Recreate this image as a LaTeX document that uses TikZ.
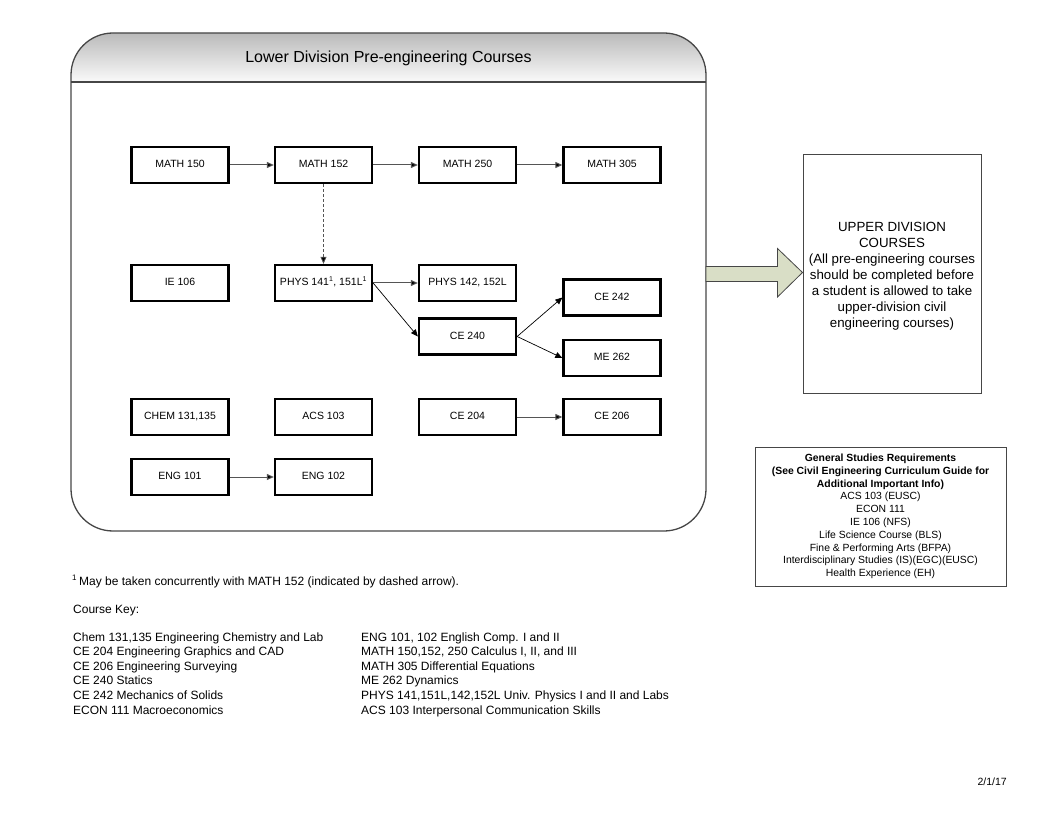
\documentclass[tikz,border=0pt]{standalone}
\usepackage{fontspec}
\setmainfont{Liberation Sans}
\usetikzlibrary{arrows.meta}
\definecolor{framegray}{RGB}{70,70,70}
\definecolor{arrowfill}{RGB}{217,222,198}
\definecolor{linegray}{RGB}{85,85,85}
\tikzset{
  course/.style={draw=black, line width=2.3pt, minimum width=97pt, minimum height=36pt, inner sep=0pt, text height=7.6pt, text depth=2.2pt, font=\fontsize{10.5}{12}\selectfont, fill=white},
  conn/.style={draw=linegray, line width=1pt, -{Triangle[length=7pt,width=6pt,fill=black]}},
  connd/.style={draw=black, line width=0.7pt, -{Triangle[length=7pt,width=6pt,fill=black]}},
  dconn/.style={draw=linegray, line width=0.8pt, densely dashed, -{Triangle[length=7pt,width=6pt,fill=black]}},
  keytext/.style={anchor=base west, inner sep=0pt, font=\fontsize{12}{14}\selectfont},
}
\newcommand{\supone}{\textsuperscript{\fontsize{7}{8}\selectfont 1}}
\begin{document}
\begin{tikzpicture}[x=1pt,y=-1pt]
\useasboundingbox (0,0) rectangle (1053,813);
% big frame header
\begin{scope}
  \clip[rounded corners=42pt] (71,33) rectangle (706,531);
  \shade[top color=black!27, bottom color=black!2] (71,33) rectangle (706,82);
\end{scope}
\draw[framegray, line width=1.3pt, rounded corners=42pt] (71,33) rectangle (706,531);
\draw[framegray, line width=1.3pt] (71,82) -- (706,82);
\node[font=\fontsize{16}{18}\selectfont] (title) at (388.5,58) {Lower Division Pre-engineering Courses};

% course boxes
\node[course] (m150) at (180,165) {MATH 150};
\node[course] (m152) at (323.5,165) {MATH 152};
\node[course] (m250) at (467.5,165) {MATH 250};
\node[course] (m305) at (612,165) {MATH 305};
\node[course] (ie106) at (180,283) {IE 106};
\node[course] (p141) at (323.5,283) {PHYS 141\supone, 151L\supone};
\node[course] (p142) at (467.5,283) {PHYS 142, 152L};
\node[course] (ce240) at (467.5,336.5) {CE 240};
\node[course] (ce242) at (612,297.5) {CE 242};
\node[course] (me262) at (612,358) {ME 262};
\node[course] (chem) at (180,417) {CHEM 131,135};
\node[course] (acs) at (323.5,417) {ACS 103};
\node[course] (ce204) at (467.5,417) {CE 204};
\node[course] (ce206) at (612,417) {CE 206};
\node[course] (eng101) at (180,477) {ENG 101};
\node[course] (eng102) at (323.5,477) {ENG 102};

% connectors
\draw[conn] (m150) -- (m152);
\draw[conn] (m152) -- (m250);
\draw[conn] (m250) -- (m305);
\draw[dconn] (m152) -- (p141);
\draw[conn] (p141) -- (p142);
\draw[connd] (p141.east) -- (ce240.west);
\draw[connd] (ce240.east) -- (ce242.west);
\draw[connd] (ce240.east) -- (me262.west);
\draw[conn] (ce204) -- (ce206);
\draw[conn] (eng101) -- (eng102);

% upper division box
\node[draw=framegray, line width=0.9pt, minimum width=178pt, minimum height=239pt, inner sep=0pt] (upper) at (892,273.5) {};
\node[align=center, font=\fontsize{13.3}{16}\selectfont] (uppertext) at (892,276)
 {UPPER DIVISION\\COURSES\\(All pre-engineering courses\\should be completed before\\a student is allowed to take\\upper-division civil\\engineering courses)};

% block arrow
\draw[framegray, line width=0.8pt, fill=arrowfill]
  (706,266.5) -- (777.5,266.5) -- (777.5,248.5) -- (802.5,272.5) -- (777.5,297) -- (777.5,281.5) -- (706,281.5) -- cycle;

% general studies box
\node[draw=framegray, line width=0.9pt, minimum width=251pt, minimum height=139pt, inner sep=0pt] (gen) at (880.5,516.5) {};
\node[align=center, font=\fontsize{10.4}{12.8}\selectfont] (gentext) at (880.5,516.5)
 {\textbf{General Studies Requirements}\\\textbf{(See Civil Engineering Curriculum Guide for}\\\textbf{Additional Important Info)}\\ACS 103 (EUSC)\\ECON 111\\IE 106 (NFS)\\Life Science Course (BLS)\\Fine \& Performing Arts (BFPA)\\Interdisciplinary Studies (IS)(EGC)(EUSC)\\Health Experience (EH)};

% footnote and key
\node[keytext] (fn) at (72,585) {\textsuperscript{\fontsize{8}{9}\selectfont 1}\,May be taken concurrently with MATH 152 (indicated by dashed arrow).};
\node[keytext] (ck) at (73,613) {Course Key:};
\node[keytext] (k1) at (73,641) {Chem 131,135 Engineering Chemistry and Lab};
\node[keytext] (k2) at (73,655.6) {CE 204 Engineering Graphics and CAD};
\node[keytext] (k3) at (73,670.2) {CE 206 Engineering Surveying};
\node[keytext] (k4) at (73,684.8) {CE 240 Statics};
\node[keytext] (k5) at (73,699.4) {CE 242 Mechanics of Solids};
\node[keytext] (k6) at (73,714) {ECON 111 Macroeconomics};
\node[keytext] (r1) at (361,641) {ENG 101, 102 English Comp. I and II};
\node[keytext] (r2) at (361,655.6) {MATH 150,152, 250 Calculus I, II, and III};
\node[keytext] (r3) at (361,670.2) {MATH 305 Differential Equations};
\node[keytext] (r4) at (361,684.8) {ME 262 Dynamics};
\node[keytext] (r5) at (361,699.4) {PHYS 141,151L,142,152L Univ. Physics I and II and Labs};
\node[keytext] (r6) at (361,714) {ACS 103 Interpersonal Communication Skills};
\node[anchor=base east, inner sep=0pt, font=\fontsize{10.5}{12}\selectfont] (date) at (1007,785) {2/1/17};
\end{tikzpicture}
\end{document}
